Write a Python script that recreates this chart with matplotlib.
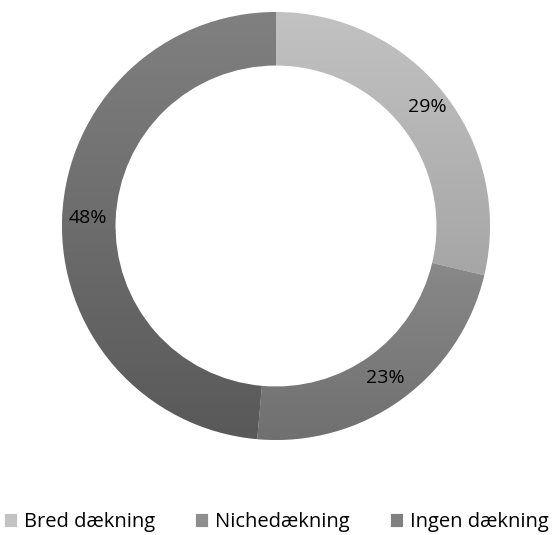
import numpy as np
import matplotlib.pyplot as plt
from matplotlib.colors import LinearSegmentedColormap

# data (slice sizes, labels as printed)
labels = ["Bred dækning", "Nichedækning", "Ingen dækning"]
shares = [28.7, 22.7, 48.6]
pctLabels = ["29%", "23%", "48%"]
# top / bottom shade of each slice (vertical gradient)
topColors = ["#c2c2c2", "#8e8e8e", "#808080"]
bottomColors = ["#a6a6a6", "#6f6f6f", "#595959"]

plt.rcParams['font.family'] = ['Open Sans', 'DejaVu Sans']

fig = plt.figure(figsize=(5.53, 5.35), dpi=100)
ax = fig.add_axes([0.0, 0.0, 1.0, 1.0])

# donut center (276,226) px, outer radius 214 px
W, H = 553, 535
R = 214.0

wedges, texts = ax.pie(shares, radius=1.0, startangle=90, counterclock=False,
                       colors=topColors, wedgeprops=dict(width=0.25, linewidth=0.6, edgecolor='white'))

# gradient fill clipped to each wedge
for w, t, b in zip(wedges, topColors, bottomColors):
    verts = w.get_path().vertices
    ymin, ymax = verts[:, 1].min(), verts[:, 1].max()
    xmin, xmax = verts[:, 0].min(), verts[:, 0].max()
    cmap = LinearSegmentedColormap.from_list("g", [b, t])
    grad = np.linspace(0, 1, 256).reshape(-1, 1)
    im = ax.imshow(grad, cmap=cmap, origin='lower', extent=[xmin, xmax, ymin, ymax],
                   aspect='auto', zorder=w.get_zorder() + 0.1)
    im.set_clip_path(w)

# percent labels in the ring
total = sum(shares)
angle = 90
radii = [0.9, 0.875, 0.88]
for s, lab, r in zip(shares, pctLabels, radii):
    a = np.deg2rad(angle - 360 * s / total / 2)
    angle -= 360 * s / total
    ax.text(r * np.cos(a), r * np.sin(a), lab, ha='center', va='center',
            fontsize=14, color='black', zorder=5)

ax.set_xlim(-276 / R, (W - 276) / R)
ax.set_ylim(-(H - 226) / R, 226 / R)
ax.set_aspect('equal')
ax.axis('off')

leg = fig.legend(wedges, labels, loc='center', bbox_to_anchor=(0.5, 1 - 522 / H), ncol=3,
                 frameon=False, fontsize=14.5, handlelength=0.65, handleheight=0.65,
                 handletextpad=0.35, columnspacing=2.0, borderpad=0, borderaxespad=0)

fig.savefig("out.png", dpi=100)
